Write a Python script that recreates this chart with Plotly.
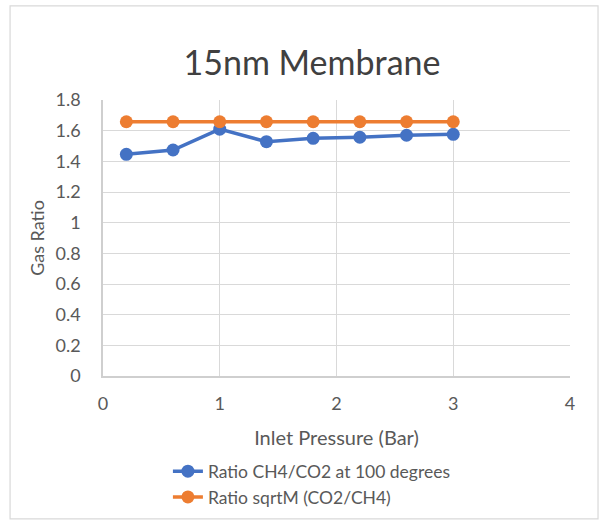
import plotly.graph_objects as go

pressure = [0.2, 0.6, 1.0, 1.4, 1.8, 2.2, 2.6, 3.0]
ratio_ch4_co2 = [1.446, 1.474, 1.610, 1.528, 1.550, 1.557, 1.570, 1.576]
ratio_sqrtm = [1.658, 1.658, 1.658, 1.658, 1.658, 1.658, 1.658, 1.658]

FONT = "Lato"
GRID = "#D9D9D9"
TXT = "#595959"

fig = go.Figure()
fig.add_trace(go.Scatter(
    x=pressure, y=ratio_ch4_co2, mode="lines+markers",
    name="Ratio CH4/CO2 at 100 degrees",
    line=dict(color="#4472C4", width=3.5),
    marker=dict(color="#4472C4", size=13),
))
fig.add_trace(go.Scatter(
    x=pressure, y=ratio_sqrtm, mode="lines+markers",
    name="Ratio sqrtM (CO2/CH4)",
    line=dict(color="#ED7D31", width=3.5),
    marker=dict(color="#ED7D31", size=13),
))

fig.update_layout(
    width=601, height=522,
    margin=dict(l=103, r=31, t=100, b=146, autoexpand=False),
    paper_bgcolor="white", plot_bgcolor="white",
    font=dict(family=FONT, size=18, color=TXT),
    title=dict(text="15nm Membrane", x=(312 - 103) / 467, xref="paper", xanchor="center",
               y=0.88, yanchor="middle",
               font=dict(family=FONT, size=34, color="#404040")),
    xaxis=dict(range=[0, 4], dtick=1, showgrid=True, gridcolor=GRID, gridwidth=1,
               zeroline=False, showline=True, linecolor="#CFCFCF", linewidth=1.5,
               ticks="", ticklabelstandoff=11, automargin=False,
               title=dict(text="Inlet Pressure (Bar)", font=dict(size=20, color=TXT), standoff=18),
               tickfont=dict(size=18, color=TXT)),
    yaxis=dict(range=[0, 1.8], dtick=0.2, showgrid=True, gridcolor=GRID, gridwidth=1,
               zeroline=False, showline=True, linecolor="#CFCFCF", linewidth=1.5,
               ticks="", ticklabelstandoff=17, automargin=False,
               tickformat="~g",
               title=dict(text="Gas Ratio", font=dict(size=18, color=TXT), standoff=6),
               tickfont=dict(size=18, color=TXT)),
    legend=dict(x=0.139, y=-0.28, xanchor="left", yanchor="top",
                font=dict(size=17.5, color=TXT), bgcolor="rgba(0,0,0,0)",
                tracegroupgap=0),
    showlegend=True,
)

# outer chart border
fig.add_shape(type="rect", xref="paper", yref="paper",
              x0=-0.199, x1=1.06, y0=-0.518, y1=1.341,
              line=dict(color="#D9D9D9", width=1.2), fillcolor="rgba(0,0,0,0)", layer="below")

fig.write_html("out.html")
